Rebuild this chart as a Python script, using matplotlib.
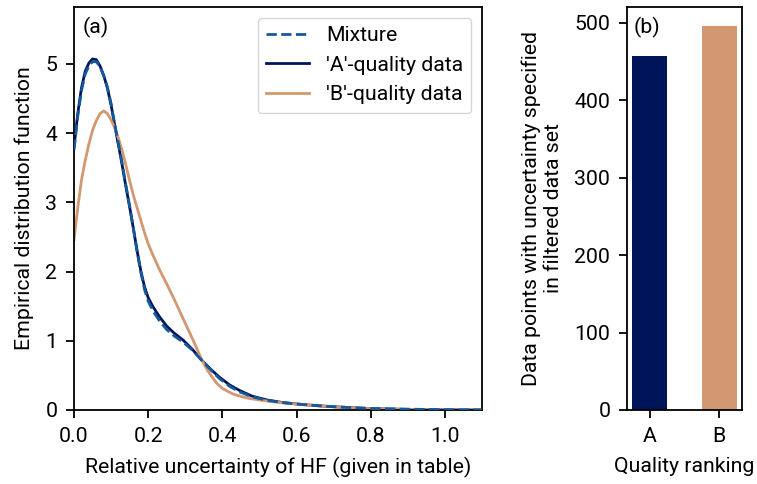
import matplotlib
matplotlib.use("Agg")
import matplotlib.pyplot as plt

plt.rcParams['font.family'] = ['Roboto', 'DejaVu Sans']
plt.rcParams['font.size'] = 15.3
plt.rcParams['axes.linewidth'] = 1.3
for ax_name in ['xtick', 'ytick']:
    plt.rcParams[ax_name + '.major.size'] = 6
    plt.rcParams[ax_name + '.major.width'] = 1.3
    plt.rcParams[ax_name + '.major.pad'] = 6

# curves
x_a = [0, 0.01, 0.02, 0.03, 0.04, 0.05, 0.06, 0.07, 0.08, 0.09, 0.10, 0.11, 0.12,
       0.13, 0.14, 0.15, 0.16, 0.17, 0.18, 0.19, 0.20, 0.213, 0.23, 0.25, 0.27,
       0.294, 0.32, 0.344, 0.37, 0.393, 0.42, 0.447, 0.48, 0.52, 0.56, 0.6, 0.65,
       0.69, 0.75, 0.8, 0.88, 0.96, 1.03, 1.1]
dens_a = [3.80, 4.28, 4.65, 4.89, 5.01, 5.07, 5.06, 4.97, 4.83, 4.65, 4.40, 4.10, 3.82,
          3.53, 3.22, 2.93, 2.62, 2.30, 2.01, 1.78, 1.62, 1.49, 1.35, 1.21, 1.11,
          1.01, 0.87, 0.72, 0.58, 0.47, 0.36, 0.28, 0.20, 0.145, 0.11, 0.087, 0.065,
          0.05, 0.033, 0.02, 0.011, 0.005, 0.002, 0.0]
dens_mix = [3.76, 4.24, 4.61, 4.85, 4.97, 5.03, 5.03, 4.96, 4.83, 4.66, 4.42, 4.12, 3.84,
            3.55, 3.24, 2.94, 2.62, 2.29, 1.99, 1.74, 1.57, 1.43, 1.29, 1.16, 1.07,
            0.98, 0.86, 0.72, 0.57, 0.45, 0.34, 0.26, 0.19, 0.14, 0.108, 0.086, 0.065,
            0.05, 0.034, 0.022, 0.013, 0.008, 0.004, 0.002]
x_b = [0, 0.01, 0.02, 0.03, 0.04, 0.05, 0.06, 0.07, 0.08, 0.09, 0.10, 0.11, 0.12,
       0.13, 0.14, 0.15, 0.16, 0.17, 0.18, 0.19, 0.20, 0.21, 0.23, 0.25, 0.27, 0.294,
       0.32, 0.344, 0.36, 0.384, 0.40, 0.429, 0.45, 0.474, 0.52, 0.56, 0.6, 0.65,
       0.69, 0.75, 0.8, 0.88, 0.96, 1.03, 1.1]
dens_b = [2.46, 2.92, 3.32, 3.60, 3.84, 4.04, 4.18, 4.28, 4.32, 4.28, 4.19, 4.07, 3.92,
          3.74, 3.53, 3.31, 3.10, 2.92, 2.74, 2.56, 2.40, 2.27, 2.03, 1.82, 1.60, 1.32,
          1.02, 0.73, 0.57, 0.39, 0.31, 0.23, 0.195, 0.165, 0.13, 0.105, 0.085, 0.063,
          0.05, 0.032, 0.02, 0.01, 0.005, 0.002, 0.0]

rankings = ['A', 'B']
counts = [457, 496]

col_a = '#00145a'
col_b = '#d29872'
col_mix = '#14599a'

fig = plt.figure(figsize=(7.57, 4.84), dpi=100)
ax1 = fig.add_axes([0.0978, 0.1529, 0.539, 0.8326])
ax2 = fig.add_axes([0.8283, 0.1529, 0.1519, 0.8326])

ax1.plot(x_a, dens_mix, '--', color=col_mix, lw=2, label='Mixture', zorder=3)
ax1.plot(x_a, dens_a, '-', color=col_a, lw=2, label="'A'-quality data")
ax1.plot(x_b, dens_b, '-', color=col_b, lw=2, label="'B'-quality data")
ax1.set_xlim(0, 1.1)
ax1.set_ylim(0, 5.82)
ax1.set_xlabel('Relative uncertainty of HF (given in table)', labelpad=8)
ax1.set_ylabel('Empirical distribution function', labelpad=8)
ax1.legend(loc='upper right')
ax1.text(0.02, 0.975, '(a)', transform=ax1.transAxes, va='top', ha='left')

ax2.bar(rankings, counts, width=0.5, color=[col_a, col_b])
ax2.set_ylim(0, 520)
ax2.set_xlabel('Quality ranking', labelpad=8)
ax2.set_ylabel('Data points with uncertainty specified\nin filtered data set', labelpad=8)
ax2.text(0.06, 0.975, '(b)', transform=ax2.transAxes, va='top', ha='left')

fig.savefig('out.png', dpi=100)
